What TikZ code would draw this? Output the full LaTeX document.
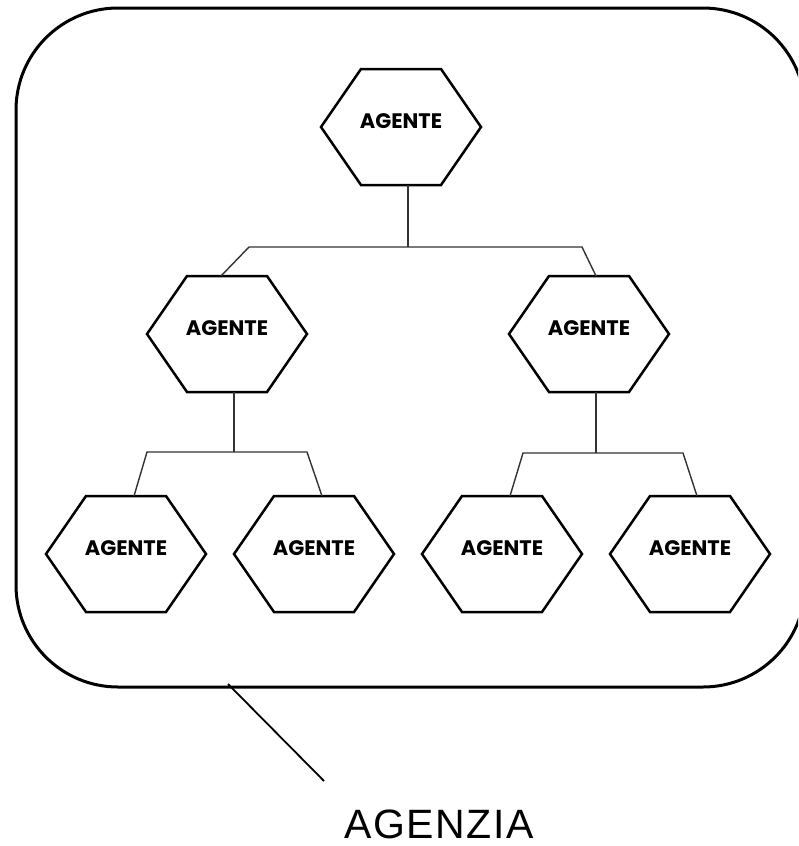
\documentclass[tikz,border=0pt]{standalone}
\usepackage{fontspec}
\setmainfont{Liberation Sans}
\newfontfamily\agfont{Poppins}
\usetikzlibrary{calc}
\tikzset{
  hexcell/.style={minimum width=160pt, minimum height=116pt, inner sep=0pt, outer sep=0pt, draw=none},
  hexline/.style={line width=2.5pt, line join=miter, black},
  agtext/.style={font=\agfont\bfseries\fontsize{21}{25}\selectfont, inner sep=0pt},
  conn/.style={line width=1.4pt, black!80},
  boxstyle/.style={draw, line width=3pt, rounded corners=102pt, minimum width=789pt, minimum height=679pt, inner sep=0pt, outer sep=0pt},
  leader/.style={line width=1.8pt, black}
}
\newcommand{\hexagent}[3]{%
  \node[hexcell] (#1) at (#2,#3) {};
  \draw[hexline] (#1.west) -- ($(#1.north west)+(40,0)$) -- ($(#1.north east)+(-40,0)$) -- (#1.east) -- ($(#1.south east)+(-40,0)$) -- ($(#1.south west)+(40,0)$) -- cycle;
  \node[agtext] (#1-l) at ($(#1)+(0,-6)$) {AGENTE};
}
\begin{document}
\begin{tikzpicture}[x=1pt,y=-1pt]
\useasboundingbox (0,0) rectangle (798,846);
\clip (0,0) rectangle (798,846);
\node[boxstyle] (box) at (410.5,347.5) {};
\hexagent{t}{401}{127}
\hexagent{m1}{227}{334}
\hexagent{m2}{589}{334}
\hexagent{b1}{126}{554}
\hexagent{b2}{314}{554}
\hexagent{b3}{502}{554}
\hexagent{b4}{690}{554}
% top level
\draw[conn] ($(t)+(7,58)$) -- ($(t)+(7,120)$);
\draw[conn] ($(m1)+(-6,-58)$) -- ($(m1)+(22,-87)$) -- ($(m2)+(-7,-87)$) -- ($(m2)+(7,-58)$);
% left sub-tree
\draw[conn] ($(m1)+(7,58)$) -- ($(m1)+(7,118)$);
\draw[conn] ($(b1)+(8,-58)$) -- ($(b1)+(21,-102)$) -- ($(b2)+(-7,-102)$) -- ($(b2)+(8,-58)$);
% right sub-tree
\draw[conn] ($(m2)+(7,58)$) -- ($(m2)+(7,119)$);
\draw[conn] ($(b3)+(8,-58)$) -- ($(b3)+(21,-101)$) -- ($(b4)+(-7,-101)$) -- ($(b4)+(7,-58)$);
% label
\node[anchor=base, inner sep=0pt, font=\fontsize{41}{48}\selectfont\addfontfeatures{LetterSpace=4}] (agenzia) at (439,838) {AGENZIA};
\coordinate (leadend) at (324,781);
\draw[leader] ($(box.south west)+(212,-3)$) -- (leadend);
\end{tikzpicture}
\end{document}
